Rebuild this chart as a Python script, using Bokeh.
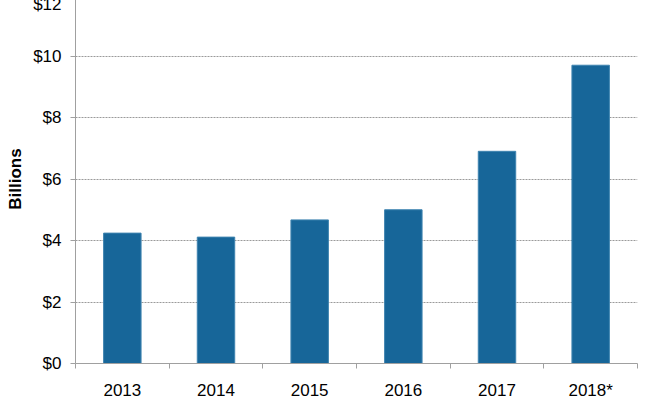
from bokeh.plotting import figure
from bokeh.models import FixedTicker, Range1d, ColumnDataSource
from bokeh.embed import file_html
from bokeh.resources import INLINE

categories = ["2013", "2014", "2015", "2016", "2017", "2018*"]
values = [4.24, 4.11, 4.67, 5.0, 6.9, 9.7]
y_ticks = [0, 2, 4, 6, 8, 10, 12]
y_tick_labels = ["$0", "$2", "$4", "$6", "$8", "$10", "$12"]

xs = [i + 0.5 for i in range(len(categories))]
src = ColumnDataSource(dict(x=xs, top=values))

p = figure(width=660, height=408, output_backend="svg", toolbar_location=None,
           x_range=Range1d(0, len(categories)), y_range=Range1d(0, 12),
           min_border_left=75, min_border_right=23, min_border_top=0, min_border_bottom=38,
           styles={"margin-top": "-6px"})
p.outline_line_color = None
p.background_fill_color = "white"

p.vbar(x="x", top="top", width=0.4, source=src, fill_color="#176699", line_color="#3f84b0", line_width=1)

FONT = "Liberation Sans"
# x axis
p.xaxis.ticker = FixedTicker(ticks=xs, minor_ticks=list(range(len(categories) + 1)))
p.xaxis.major_label_overrides = {x: c for x, c in zip(xs, categories)}
p.xaxis.major_tick_line_color = None
p.xaxis.minor_tick_line_color = "#a0a0a0"
p.xaxis.minor_tick_out = 5
p.xaxis.minor_tick_in = 0
p.xaxis.axis_line_color = "#a0a0a0"
p.xaxis.major_label_text_font = FONT
p.xaxis.major_label_text_font_size = "17px"
p.xaxis.major_label_text_color = "black"
p.xaxis.major_label_standoff = 11

# y axis
p.yaxis.ticker = FixedTicker(ticks=y_ticks)
p.yaxis.major_label_overrides = {t: l for t, l in zip(y_ticks, y_tick_labels)}
p.yaxis.minor_tick_line_color = None
p.yaxis.major_tick_line_color = "#a0a0a0"
p.yaxis.major_tick_out = 5
p.yaxis.major_tick_in = 0
p.yaxis.axis_line_color = "#a0a0a0"
p.yaxis.major_label_text_font = FONT
p.yaxis.major_label_text_font_size = "17px"
p.yaxis.major_label_text_color = "black"
p.yaxis.major_label_standoff = 9
p.yaxis.axis_label = "Billions"
p.yaxis.axis_label_text_font = FONT
p.yaxis.axis_label_text_font_size = "17px"
p.yaxis.axis_label_text_font_style = "bold"
p.yaxis.axis_label_text_color = "black"
p.yaxis.axis_label_standoff = 5

p.xgrid.grid_line_color = None
p.ygrid.grid_line_color = "#9a9a9a"
p.ygrid.grid_line_dash = "2 1"
p.ygrid.grid_line_width = 1

open("out.html", "w").write(file_html(p, INLINE))
